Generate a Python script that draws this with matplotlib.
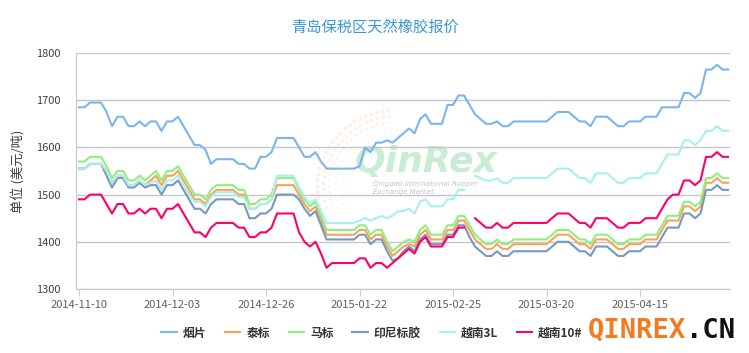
import numpy as np
import matplotlib
matplotlib.use("Agg")
import matplotlib.pyplot as plt

plt.rcParams['font.family'] = ['Noto Sans CJK SC', 'DejaVu Sans']

title = "青岛保税区天然橡胶报价"
y_title = "单位 (美元/吨)"
tick_index = [0, 17, 34, 51, 68, 85, 102]
tick_labels = ["2014-11-10", "2014-12-03", "2014-12-26", "2015-01-22",
               "2015-02-25", "2015-03-20", "2015-04-15"]
names = ["烟片", "泰标", "马标", "印尼标胶", "越南3L", "越南10#"]
colors = ["#7cb5ec", "#f7a35c", "#90ee7e", "#7798bf", "#aaeeee", "#ff0066"]

yanpian = [
    1685, 1685, 1695, 1695, 1695, 1675, 1645, 1665, 1665, 1645,
    1645, 1655, 1645, 1655, 1655, 1635, 1655, 1655, 1665, 1645,
    1625, 1605, 1605, 1595, 1565, 1575, 1575, 1575, 1575, 1565,
    1565, 1555, 1555, 1580, 1580, 1590, 1620, 1620, 1620, 1620,
    1600, 1580, 1580, 1590, 1570, 1555, 1555, 1555, 1555, 1555,
    1555, 1560, 1600, 1590, 1610, 1610, 1615, 1610, 1620, 1630,
    1640, 1630, 1660, 1670, 1650, 1650, 1650, 1690, 1690, 1710,
    1710, 1690, 1670, 1660, 1650, 1650, 1655, 1645, 1645, 1655,
    1655, 1655, 1655, 1655, 1655, 1655, 1665, 1675, 1675, 1675,
    1665, 1655, 1655, 1645, 1665, 1665, 1665, 1655, 1645, 1645,
    1655, 1655, 1655, 1665, 1665, 1665, 1685, 1685, 1685, 1685,
    1715, 1715, 1705, 1715, 1765, 1765, 1775, 1765, 1765]

taibiao = [
    1555, 1555, 1565, 1565, 1565, 1550, 1525, 1540, 1540, 1520,
    1520, 1530, 1520, 1530, 1540, 1520, 1540, 1540, 1550, 1530,
    1510, 1490, 1490, 1480, 1500, 1510, 1510, 1510, 1510, 1500,
    1500, 1470, 1470, 1480, 1480, 1490, 1520, 1520, 1520, 1520,
    1500, 1480, 1465, 1475, 1445, 1415, 1415, 1415, 1415, 1415,
    1415, 1425, 1425, 1405, 1415, 1415, 1390, 1370, 1380, 1390,
    1395, 1390, 1415, 1425, 1405, 1405, 1405, 1425, 1425, 1445,
    1445, 1425, 1405, 1395, 1385, 1385, 1395, 1385, 1385, 1395,
    1395, 1395, 1395, 1395, 1395, 1395, 1405, 1415, 1415, 1415,
    1405, 1395, 1395, 1385, 1405, 1405, 1405, 1395, 1385, 1385,
    1395, 1395, 1395, 1405, 1405, 1405, 1425, 1445, 1445, 1445,
    1475, 1475, 1465, 1475, 1525, 1525, 1535, 1525, 1525]

mabiao = [
    1570, 1570, 1580, 1580, 1580, 1560, 1535, 1550, 1550, 1530,
    1530, 1540, 1530, 1540, 1550, 1530, 1550, 1550, 1560, 1540,
    1520, 1500, 1500, 1490, 1510, 1520, 1520, 1520, 1520, 1510,
    1510, 1480, 1480, 1490, 1490, 1500, 1535, 1535, 1535, 1535,
    1510, 1490, 1475, 1485, 1455, 1425, 1425, 1425, 1425, 1425,
    1425, 1435, 1435, 1415, 1425, 1425, 1400, 1380, 1390, 1400,
    1405, 1400, 1425, 1435, 1415, 1415, 1415, 1435, 1435, 1455,
    1455, 1435, 1415, 1405, 1395, 1395, 1405, 1395, 1395, 1405,
    1405, 1405, 1405, 1405, 1405, 1405, 1415, 1425, 1425, 1425,
    1415, 1405, 1405, 1395, 1415, 1415, 1415, 1405, 1395, 1395,
    1405, 1405, 1405, 1415, 1415, 1415, 1435, 1455, 1455, 1455,
    1485, 1485, 1475, 1485, 1535, 1535, 1545, 1535, 1535]

yinni = [
    1555, 1555, 1565, 1565, 1565, 1540, 1515, 1535, 1535, 1515,
    1515, 1525, 1515, 1520, 1520, 1500, 1520, 1520, 1530, 1510,
    1490, 1470, 1470, 1460, 1480, 1490, 1490, 1490, 1490, 1480,
    1480, 1450, 1450, 1460, 1460, 1470, 1500, 1500, 1500, 1500,
    1490, 1470, 1455, 1465, 1435, 1405, 1405, 1405, 1405, 1405,
    1405, 1415, 1415, 1395, 1405, 1405, 1380, 1360, 1365, 1380,
    1390, 1380, 1405, 1415, 1395, 1395, 1395, 1415, 1415, 1435,
    1435, 1410, 1390, 1380, 1370, 1370, 1380, 1370, 1370, 1380,
    1380, 1380, 1380, 1380, 1380, 1380, 1390, 1400, 1400, 1400,
    1390, 1380, 1380, 1370, 1390, 1390, 1390, 1380, 1370, 1370,
    1380, 1380, 1380, 1390, 1390, 1390, 1410, 1430, 1430, 1430,
    1460, 1460, 1450, 1460, 1510, 1510, 1520, 1510, 1510]

yuenan3l = [
    1555, 1555, 1565, 1565, 1565, 1550, 1525, 1540, 1540, 1520,
    1520, 1530, 1520, 1525, 1530, 1510, 1530, 1530, 1540, 1520,
    1500, 1485, 1485, 1475, 1495, 1505, 1505, 1505, 1505, 1495,
    1495, 1470, 1470, 1480, 1480, 1490, 1540, 1540, 1540, 1540,
    1515, 1495, 1480, 1490, 1465, 1440, 1440, 1440, 1440, 1440,
    1440, 1445, 1450, 1445, 1450, 1455, 1450, 1455, 1465, 1465,
    1470, 1460, 1485, 1490, 1475, 1475, 1475, 1490, 1490, 1510,
    1510, None, 1540, 1535, 1530, 1530, 1535, 1525, 1525, 1535,
    1535, 1535, 1535, 1535, 1535, 1535, 1545, 1555, 1555, 1555,
    1545, 1535, 1535, 1525, 1545, 1545, 1545, 1535, 1525, 1525,
    1535, 1535, 1535, 1545, 1545, 1545, 1565, 1585, 1585, 1585,
    1615, 1615, 1605, 1615, 1635, 1635, 1645, 1635, 1635]

yuenan10 = [
    1490, 1490, 1500, 1500, 1500, 1480, 1460, 1480, 1480, 1460,
    1460, 1470, 1460, 1470, 1470, 1450, 1470, 1470, 1480, 1460,
    1440, 1420, 1420, 1410, 1430, 1440, 1440, 1440, 1440, 1430,
    1430, 1410, 1410, 1420, 1420, 1430, 1460, 1460, 1460, 1460,
    1420, 1400, 1390, 1400, 1375, 1345, 1355, 1355, 1355, 1355,
    1355, 1365, 1365, 1345, 1355, 1355, 1345, 1355, 1365, 1375,
    1385, 1375, 1400, 1410, 1390, 1390, 1390, 1410, 1410, 1430,
    1430, None, 1450, 1440, 1430, 1430, 1440, 1430, 1430, 1440,
    1440, 1440, 1440, 1440, 1440, 1440, 1450, 1460, 1460, 1460,
    1450, 1440, 1440, 1430, 1450, 1450, 1450, 1440, 1430, 1430,
    1440, 1440, 1440, 1450, 1450, 1450, 1470, 1490, 1500, 1500,
    1530, 1530, 1520, 1530, 1580, 1580, 1590, 1580, 1580]

series = [yanpian, taibiao, mabiao, yinni, yuenan3l, yuenan10]

W, H = 749, 353
fig = plt.figure(figsize=(W / 100, H / 100), dpi=100)

# background layer in pixel coordinates for the watermark
bg = fig.add_axes([0, 0, 1, 1], zorder=-1)
bg.set_xlim(0, W)
bg.set_ylim(H, 0)
bg.axis("off")
for k, r in enumerate([48, 54, 60, 66, 72, 78]):
    ang = np.deg2rad(np.arange(95, 200, 360 / (2 * np.pi * r / 6)))
    bg.scatter(395 + r * np.cos(ang), 188 - r * np.sin(ang), s=2 + k,
               color="#fbd3b3", alpha=0.12 + 0.05 * k, lw=0)
bg.text(426, 162, "QinRex", fontsize=26, fontweight="bold", style="italic",
        color="#c8ecd4", ha="center", va="center", family="DejaVu Sans")
bg.text(373, 184, "Qingdao International Rubber", fontsize=5, style="italic",
        color="#c4c4c4", ha="left", va="center", family="DejaVu Sans")
bg.text(373, 192, "Exchange Market", fontsize=5, style="italic",
        color="#c4c4c4", ha="left", va="center", family="DejaVu Sans")

ax = fig.add_axes([76 / W, (H - 289) / H, 654 / W, 236 / H], zorder=1)
ax.patch.set_visible(False)

x = np.arange(len(yanpian))
for vals, name, c in zip(series, names, colors):
    ax.plot(x, np.array(vals, dtype=float), color=c, lw=1.5, label=name,
            solid_joinstyle="round")

ax.set_xlim(-0.55, 118.36)
ax.set_ylim(1300, 1800)
ax.set_yticks(range(1300, 1801, 100))
ax.yaxis.grid(True, color="#c6c6c6", lw=1)
ax.set_axisbelow(True)
ax.set_xticks(tick_index)
ax.set_xticklabels(tick_labels)
ax.tick_params(axis="x", length=5, color="#c0d0e0", labelsize=8,
               labelcolor="#606060", pad=3)
ax.tick_params(axis="y", length=0, labelsize=8, labelcolor="#404040", pad=11)
for s in ["top", "right"]:
    ax.spines[s].set_visible(False)
for s in ["left", "bottom"]:
    ax.spines[s].set_color("#c0c8d0")

fig.text(0.5, 1 - 27 / H, title, ha="center", va="center", fontsize=11,
         color="#3a98d8")
fig.text(18 / W, 1 - 171 / H, y_title, ha="center", va="center",
         rotation=90, fontsize=9.5, color="#404040")

fig.legend(loc="center", bbox_to_anchor=(372 / W, 1 - 333 / H), ncol=6,
           frameon=False, handlelength=1.3, handletextpad=0.5,
           columnspacing=1.6, prop={"size": 8.5, "weight": "bold"},
           labelcolor="#333333")

fig.text(588 / W, 1 - 331 / H, "QINREX", ha="left", va="center",
         fontsize=19.5, fontweight="bold", color="#f47a20",
         family="DejaVu Sans Mono")
fig.text(686 / W, 1 - 331 / H, ".CN", ha="left", va="center",
         fontsize=19.5, fontweight="bold", color="#111111",
         family="DejaVu Sans Mono")

fig.savefig("out.png", dpi=100)
